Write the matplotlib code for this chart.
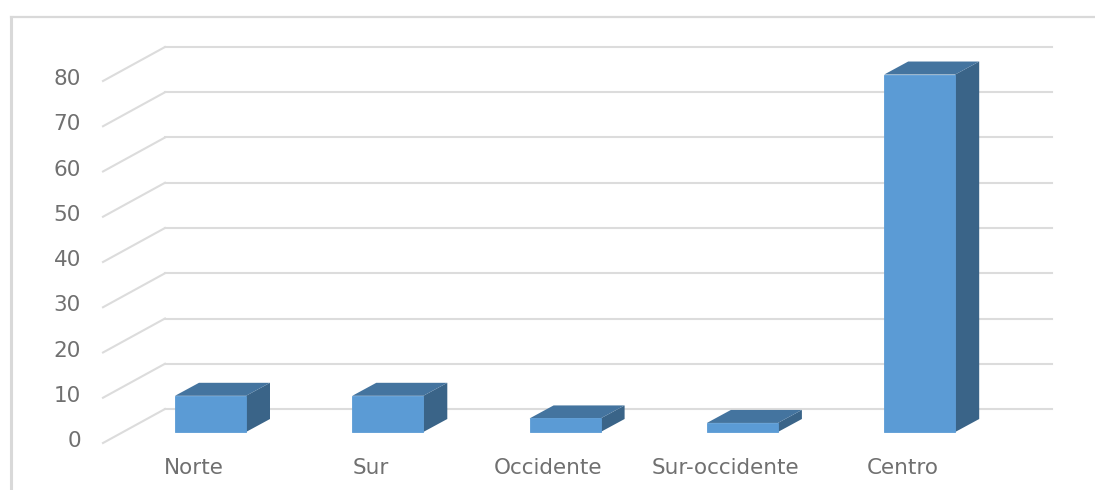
import matplotlib
matplotlib.use("Agg")
import matplotlib.pyplot as plt
import numpy as np

# values
regiones = ["Norte", "Sur", "Occidente", "Sur-occidente", "Centro"]
valores = [8, 8, 3, 2, 79]
ticks_y = [0, 10, 20, 30, 40, 50, 60, 70, 80]

# how the fake 3d looks, everything in pixels of the 1095x490 image
ancho_px = 1095
alto_px = 490
px_por_unidad = 4.525
px_por_categoria = 177.3
x0_px = 210.5
y0_px = 432


def px_x(p):
    # pixels across to category units
    return p / px_por_categoria


def px_y(p):
    # pixels up to value units
    return p / px_por_unidad


fig = plt.figure(figsize=(ancho_px / 100, alto_px / 100), dpi=100)
ax = fig.add_axes([0, 0, 1, 1])
ax.set_xlim(-px_x(x0_px), px_x(ancho_px - x0_px))
ax.set_ylim(-px_y(alto_px - y0_px), px_y(y0_px))
ax.axis("off")

# chart frame, only top and left show up
x_marco = -px_x(x0_px - 10.5)
y_marco = px_y(y0_px - 17)
ax.plot([x_marco, ax.get_xlim()[1]], [y_marco, y_marco], color="#d9d9d9", lw=1.6, zorder=1)
ax.plot([x_marco, x_marco], [ax.get_ylim()[0], y_marco], color="#d9d9d9", lw=2.2, zorder=1)

# back wall lines and the diagonal on the floor for each tick
x_frente = px_x(103 - x0_px)
x_fondo = px_x(165 - x0_px)
x_fin = px_x(1052 - x0_px)
sube_fondo = px_y(y0_px - 409)
sube_frente = px_y(y0_px - 443)
for t in ticks_y:
    ax.plot([x_fondo, x_fin], [t + sube_fondo, t + sube_fondo], color="#dcdcdc", lw=1.5, zorder=1)
    ax.plot([x_frente, x_fondo], [t + sube_frente, t + sube_fondo], color="#dcdcdc", lw=1.5, zorder=1)
    ax.text(px_x(81 - x0_px), t + px_y(y0_px - 441), str(t), ha="right", va="center",
            fontsize=15.5, color="#707070", family="DejaVu Sans")

# bars, front face with the library and then the two extra faces
x = np.arange(len(regiones))
ancho = px_x(71)
dx = px_x(24)
dy = px_y(13)
barras = ax.bar(x, valores, width=ancho, color="#5b9bd5", edgecolor="#5b9bd5", linewidth=0.6, zorder=3)

for b in barras:
    izq = b.get_x()
    der = izq + b.get_width()
    alto = b.get_height()
    ax.fill([der, der + dx, der + dx, der], [0, dy, alto + dy, alto], color="#3a6488", lw=0, zorder=2.5)
    ax.fill([izq, izq + dx, der + dx, der], [alto, alto + dy, alto + dy, alto], color="#44749f", lw=0, zorder=2.5)

# category labels sit a bit left of the bars
for i in range(len(regiones)):
    ax.text(x[i] - px_x(17), px_y(y0_px - 468), regiones[i], ha="center", va="center",
            fontsize=15.5, color="#707070", family="DejaVu Sans")

fig.savefig("out.png", dpi=100)
